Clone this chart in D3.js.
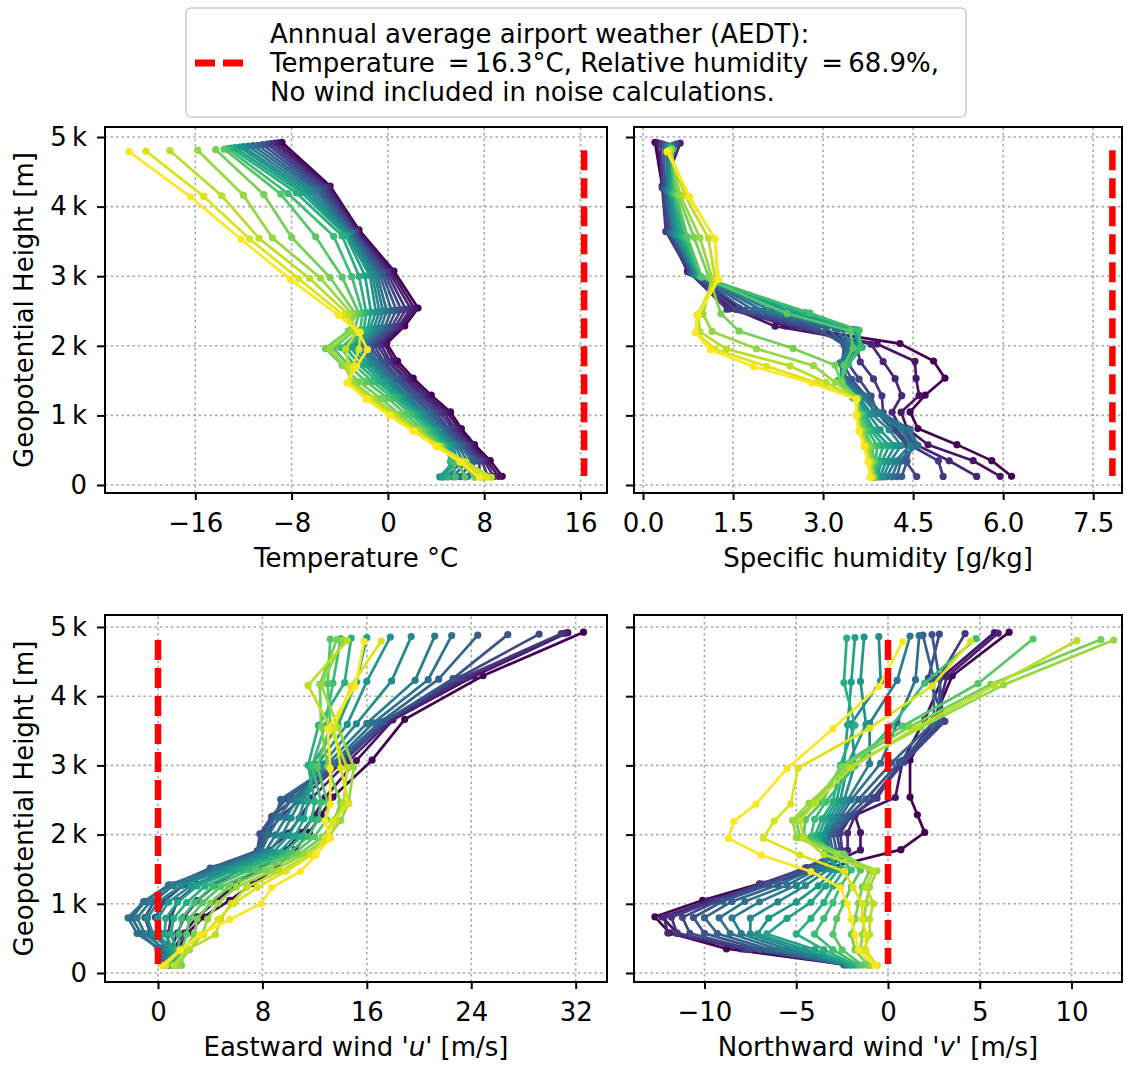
<!DOCTYPE html>
<html>
<head>
<meta charset="utf-8">
<script src="https://cdn.jsdelivr.net/npm/d3@7"></script>
<style>
    body { margin: 0; background: #ffffff; }
    svg text { font-family: "DejaVu Sans", sans-serif; fill: #000000; }
</style>
</head>
<body>
<div class="chart-container"></div>
<script>
const width = 1127;
const height = 1066;
const fontSize = 26;

// 20 profiles (0 = dark purple ... 19 = yellow), 15 levels from the ground up
// geopotential height of every point [m]
const alturas = [
    [125, 350, 580, 812, 1050, 1290, 1535, 1782, 2032, 2286, 2542, 3075, 3665, 4295, 4925],
    [124, 349, 578, 810, 1047, 1287, 1531, 1778, 2027, 2281, 2536, 3069, 3658, 4287, 4918],
    [123, 348, 577, 808, 1045, 1284, 1528, 1774, 2023, 2276, 2531, 3062, 3651, 4279, 4911],
    [123, 347, 575, 806, 1042, 1281, 1524, 1769, 2018, 2271, 2525, 3056, 3644, 4270, 4904],
    [122, 346, 574, 804, 1040, 1278, 1521, 1765, 2014, 2266, 2520, 3050, 3637, 4262, 4897],
    [121, 345, 572, 802, 1037, 1275, 1517, 1761, 2009, 2261, 2514, 3043, 3630, 4254, 4890],
    [120, 344, 571, 800, 1034, 1272, 1513, 1757, 2004, 2256, 2509, 3037, 3622, 4246, 4882],
    [119, 343, 570, 798, 1032, 1269, 1510, 1753, 2000, 2251, 2503, 3031, 3615, 4238, 4875],
    [119, 342, 568, 796, 1029, 1266, 1506, 1748, 1995, 2246, 2498, 3025, 3608, 4229, 4868],
    [118, 341, 567, 794, 1027, 1263, 1503, 1744, 1991, 2241, 2492, 3018, 3601, 4221, 4861],
    [117, 340, 565, 792, 1024, 1260, 1499, 1740, 1986, 2236, 2487, 3012, 3594, 4213, 4854],
    [116, 339, 564, 790, 1021, 1257, 1495, 1736, 1981, 2231, 2481, 3006, 3587, 4205, 4847],
    [115, 338, 562, 788, 1019, 1254, 1492, 1732, 1977, 2226, 2476, 2999, 3580, 4197, 4840],
    [115, 337, 561, 786, 1016, 1251, 1488, 1727, 1972, 2221, 2470, 2993, 3573, 4188, 4833],
    [114, 336, 559, 784, 1014, 1248, 1485, 1723, 1968, 2216, 2465, 2987, 3566, 4180, 4826],
    [113, 335, 558, 782, 1011, 1245, 1481, 1719, 1963, 2211, 2459, 2981, 3559, 4172, 4818],
    [112, 334, 556, 780, 1008, 1242, 1477, 1715, 1958, 2206, 2454, 2974, 3551, 4164, 4811],
    [111, 333, 555, 778, 1006, 1239, 1474, 1711, 1954, 2201, 2448, 2968, 3544, 4156, 4804],
    [111, 332, 553, 776, 1003, 1236, 1470, 1706, 1949, 2196, 2443, 2962, 3537, 4147, 4797],
    [110, 331, 552, 774, 1001, 1233, 1467, 1702, 1945, 2191, 2437, 2955, 3530, 4139, 4790]
];

// temperature [°C]
const temperatura = [
    [9.5, 8.5, 7.2, 6.1, 5.2, 3.6, 2.1, 0.8, -0.1, 1.4, 2.5, 0.5, -2.4, -4.8, -8.8],
    [9.2, 8.2, 7.0, 5.9, 4.9, 3.3, 1.8, 0.5, -0.3, 1.1, 2.2, 0.3, -2.5, -4.9, -9.1],
    [8.8, 8.0, 6.8, 5.6, 4.6, 3.0, 1.5, 0.2, -0.6, 0.9, 1.9, 0.1, -2.6, -5.0, -9.4],
    [8.3, 7.8, 6.6, 5.4, 4.3, 2.8, 1.3, 0.0, -0.9, 0.6, 1.5, -0.1, -2.7, -5.2, -9.7],
    [7.6, 7.6, 6.4, 5.1, 4.0, 2.5, 1.0, -0.3, -1.2, 0.3, 1.1, -0.3, -2.8, -5.4, -10.0],
    [6.6, 7.3, 6.2, 4.9, 3.7, 2.2, 0.8, -0.5, -1.5, 0.0, 0.7, -0.5, -2.9, -5.6, -10.4],
    [6.0, 7.0, 6.0, 4.7, 3.5, 2.0, 0.6, -0.8, -1.7, -0.3, 0.3, -0.7, -3.0, -5.8, -10.8],
    [5.4, 6.6, 5.8, 4.5, 3.2, 1.7, 0.3, -1.0, -2.0, -0.6, -0.1, -0.9, -3.1, -6.0, -11.2],
    [4.9, 6.2, 5.6, 4.3, 3.0, 1.5, 0.1, -1.2, -2.2, -0.9, -0.4, -1.1, -3.2, -6.3, -11.6],
    [4.5, 5.8, 5.4, 4.2, 2.8, 1.3, -0.1, -1.4, -2.5, -1.2, -0.7, -1.3, -3.3, -6.6, -12.0],
    [4.3, 5.5, 5.2, 4.0, 2.6, 1.1, -0.3, -1.7, -2.8, -1.5, -1.0, -1.5, -3.4, -6.9, -12.3],
    [4.6, 5.3, 5.0, 3.8, 2.4, 0.9, -0.6, -2.0, -3.1, -1.7, -1.4, -1.9, -3.5, -7.2, -12.7],
    [5.0, 5.2, 4.8, 3.6, 2.2, 0.7, -0.9, -2.4, -3.5, -2.0, -1.8, -2.4, -3.8, -7.6, -13.0],
    [5.6, 5.4, 4.6, 3.3, 1.9, 0.4, -1.3, -2.8, -3.9, -2.3, -2.1, -3.0, -4.5, -8.3, -13.3],
    [6.4, 5.8, 4.5, 3.0, 1.5, 0.0, -1.8, -3.3, -4.5, -2.8, -2.4, -3.8, -6.0, -8.9, -13.6],
    [7.2, 6.0, 4.4, 2.8, 1.0, -0.6, -2.4, -3.8, -5.2, -3.3, -2.7, -4.8, -8.0, -10.3, -14.3],
    [7.8, 6.2, 4.3, 2.6, 0.7, -1.1, -2.9, -3.6, -4.8, -3.0, -3.0, -5.6, -9.6, -12.0, -15.8],
    [8.6, 6.5, 4.3, 2.4, 0.5, -1.4, -3.2, -3.3, -3.5, -2.6, -3.3, -6.5, -10.7, -13.8, -18.1],
    [8.2, 6.3, 4.2, 2.2, 0.3, -1.6, -3.3, -2.9, -2.4, -2.3, -3.7, -7.4, -11.5, -15.3, -20.1],
    [7.6, 6.0, 4.0, 2.1, 0.1, -1.8, -3.4, -2.6, -1.7, -2.4, -4.1, -8.1, -12.2, -16.4, -21.5]
];

// specific humidity [g/kg]
const humedad = [
    [6.14, 5.81, 5.23, 4.58, 4.45, 4.70, 5.03, 4.84, 4.28, 2.37, 1.60, 0.75, 0.45, 0.32, 0.20],
    [5.95, 5.50, 4.75, 4.40, 4.30, 4.60, 4.55, 4.53, 3.90, 2.20, 1.50, 0.74, 0.42, 0.33, 0.24],
    [5.56, 5.10, 4.55, 4.30, 4.15, 4.31, 4.20, 4.00, 3.80, 2.50, 1.45, 0.78, 0.40, 0.34, 0.62],
    [5.00, 4.92, 4.45, 4.20, 4.00, 3.98, 3.84, 3.62, 3.55, 2.62, 1.40, 0.77, 0.38, 0.32, 0.30],
    [4.56, 4.37, 4.40, 4.15, 3.90, 3.80, 3.60, 3.40, 3.45, 2.75, 1.55, 0.80, 0.42, 0.34, 0.55],
    [4.31, 4.40, 4.48, 4.35, 3.85, 3.72, 3.48, 3.32, 3.35, 2.90, 1.70, 0.82, 0.45, 0.36, 0.35],
    [4.23, 4.30, 4.53, 4.40, 3.95, 3.75, 3.40, 3.30, 3.40, 3.05, 1.85, 0.84, 0.48, 0.38, 0.50],
    [4.15, 4.25, 4.58, 4.45, 3.98, 3.70, 3.35, 3.28, 3.45, 3.20, 2.00, 0.86, 0.50, 0.40, 0.40],
    [4.06, 4.20, 4.45, 4.30, 3.90, 3.65, 3.30, 3.30, 3.50, 3.30, 2.15, 0.88, 0.52, 0.42, 0.42],
    [4.00, 4.12, 4.30, 4.10, 3.80, 3.60, 3.28, 3.35, 3.55, 3.40, 2.30, 0.90, 0.55, 0.44, 0.44],
    [3.95, 4.05, 4.20, 3.95, 3.75, 3.55, 3.25, 3.38, 3.60, 3.50, 2.45, 0.92, 0.58, 0.46, 0.45],
    [3.90, 3.98, 4.10, 3.85, 3.70, 3.50, 3.25, 3.40, 3.63, 3.55, 2.60, 0.93, 0.62, 0.48, 0.46],
    [3.88, 3.92, 4.00, 3.80, 3.68, 3.50, 3.28, 3.42, 3.65, 3.58, 2.70, 0.95, 0.66, 0.50, 0.47],
    [3.86, 3.88, 3.90, 3.75, 3.65, 3.52, 3.30, 3.40, 3.62, 3.60, 2.78, 0.96, 0.70, 0.52, 0.48],
    [3.85, 3.85, 3.82, 3.70, 3.62, 3.55, 3.32, 3.35, 3.50, 3.45, 2.40, 0.98, 0.74, 0.55, 0.48],
    [3.84, 3.82, 3.78, 3.66, 3.60, 3.58, 3.30, 3.20, 2.50, 1.60, 1.30, 1.10, 0.85, 0.58, 0.47],
    [3.83, 3.80, 3.75, 3.64, 3.58, 3.56, 3.20, 2.84, 1.89, 1.15, 1.00, 1.15, 0.95, 0.62, 0.46],
    [3.82, 3.78, 3.72, 3.62, 3.56, 3.55, 3.05, 2.45, 1.39, 0.95, 0.92, 1.20, 1.09, 0.70, 0.44],
    [3.80, 3.76, 3.70, 3.60, 3.55, 3.55, 2.90, 2.06, 1.20, 0.88, 0.90, 1.24, 1.20, 0.76, 0.42],
    [3.78, 3.75, 3.68, 3.60, 3.55, 3.56, 2.81, 1.84, 1.12, 0.87, 0.92, 1.26, 1.20, 0.78, 0.40]
];

// eastward wind u [m/s]
const vientoU = [
    [0.8, 1.5, 2.3, 3.5, 5.5, 7.3, 9.1, 10.5, 11.6, 12.5, 13.4, 16.4, 18.9, 24.9, 32.6],
    [0.6, 1.2, 2.0, 3.0, 4.5, 6.0, 8.0, 9.8, 11.0, 12.0, 12.8, 15.2, 18.0, 24.2, 31.4],
    [0.5, 1.0, 1.5, 2.0, 3.0, 4.5, 6.5, 8.5, 10.0, 11.0, 11.8, 14.6, 17.8, 23.8, 31.2],
    [0.4, 0.7, 0.8, 1.0, 1.5, 3.0, 5.5, 7.8, 8.3, 9.5, 11.0, 14.2, 17.5, 23.4, 30.9],
    [0.3, 0.4, 0.2, -0.2, 0.5, 2.0, 4.5, 7.6, 8.0, 8.8, 10.4, 14.0, 17.3, 23.0, 29.2],
    [0.4, 0.2, -0.6, -1.0, -0.3, 1.2, 4.0, 7.6, 7.8, 8.7, 9.8, 13.8, 17.3, 22.6, 26.8],
    [0.5, 0.0, -1.3, -2.0, -1.0, 0.9, 4.2, 7.7, 8.2, 9.0, 9.4, 13.6, 17.0, 21.5, 24.5],
    [0.6, 0.2, -1.6, -2.3, -1.1, 0.8, 4.4, 7.9, 8.5, 9.3, 10.2, 13.4, 16.5, 20.7, 22.5],
    [0.7, 0.5, -1.0, -1.6, -0.6, 1.2, 4.8, 8.2, 9.0, 9.8, 10.6, 13.0, 16.0, 19.7, 21.2],
    [0.8, 0.8, -0.4, -0.8, 0.0, 1.8, 5.2, 8.5, 9.5, 10.2, 10.9, 12.6, 15.2, 17.9, 19.4],
    [0.9, 1.0, 0.0, 0.0, 0.8, 2.5, 5.6, 8.8, 10.0, 10.8, 11.2, 12.2, 14.5, 16.0, 17.8],
    [1.0, 1.2, 0.5, 0.6, 1.5, 3.0, 6.0, 9.2, 10.5, 11.2, 11.5, 11.8, 13.8, 15.2, 16.0],
    [1.2, 1.4, 1.0, 1.2, 2.2, 3.6, 6.5, 9.6, 11.0, 11.8, 12.0, 11.5, 12.3, 14.3, 14.8],
    [1.4, 1.6, 1.6, 1.8, 2.8, 4.2, 7.0, 10.0, 11.5, 12.3, 12.5, 11.8, 12.8, 13.4, 14.0],
    [1.6, 1.8, 2.2, 2.4, 3.4, 4.8, 7.6, 10.4, 12.0, 12.9, 13.0, 12.2, 13.2, 13.0, 13.2],
    [1.8, 2.0, 2.8, 3.0, 4.0, 5.4, 8.2, 10.8, 12.6, 13.5, 14.0, 13.0, 12.5, 12.4, 13.7],
    [1.5, 2.4, 3.4, 3.8, 4.6, 6.0, 8.8, 11.2, 13.0, 14.0, 14.6, 15.0, 13.8, 12.5, 14.2],
    [1.2, 2.2, 4.4, 4.8, 5.6, 6.8, 9.4, 11.6, 13.2, 13.6, 14.2, 14.5, 13.2, 11.5, 14.5],
    [0.6, 1.7, 3.5, 4.6, 5.8, 7.6, 9.8, 11.8, 12.8, 13.4, 14.6, 14.0, 13.5, 14.8, 17.1],
    [0.3, 1.7, 3.2, 5.5, 7.9, 8.7, 10.9, 12.1, 13.2, 12.8, 13.2, 13.2, 13.0, 15.1, 15.8]
];

// northward wind v [m/s]
const vientoV = [
    [-2.4, -8.8, -11.9, -12.7, -10.1, -7.0, -3.0, 0.7, 2.0, 1.6, 1.2, 1.2, 2.5, 3.5, 6.6],
    [-2.2, -8.0, -11.5, -12.3, -9.5, -6.5, -3.5, -1.5, -1.5, -1.8, 0.4, 0.8, 2.0, 3.0, 5.8],
    [-2.3, -7.8, -12.0, -12.2, -9.8, -6.8, -4.0, -2.2, -2.2, -1.8, -0.8, 0.8, 2.6, 3.2, 6.0],
    [-2.3, -7.8, -11.5, -11.8, -9.5, -7.0, -4.4, -2.5, -2.6, -2.0, -0.6, 0.7, 3.0, 2.8, 4.2],
    [-2.4, -7.5, -10.8, -11.2, -9.3, -6.8, -4.5, -2.6, -2.8, -2.0, -0.8, 0.9, 3.1, 2.2, 2.8],
    [-2.4, -7.0, -10.0, -10.6, -9.0, -6.5, -4.3, -2.8, -3.0, -2.2, -1.2, 0.6, 2.8, 2.8, 2.4],
    [-2.4, -6.5, -9.3, -10.0, -8.5, -6.0, -4.0, -3.0, -3.2, -2.4, -1.6, 0.2, 2.5, 2.5, 1.9],
    [-2.3, -6.0, -8.6, -9.2, -7.8, -5.5, -3.8, -3.2, -3.3, -2.6, -2.0, -0.4, 0.5, 1.5, 1.7],
    [-2.3, -5.5, -8.0, -8.5, -7.0, -5.0, -3.5, -3.3, -3.4, -2.8, -2.2, -1.0, -1.0, 0.5, 1.2],
    [-2.2, -5.0, -7.5, -7.5, -6.0, -4.5, -3.2, -3.4, -3.5, -3.0, -2.4, -1.8, -2.0, -0.4, -0.5],
    [-2.1, -4.5, -7.1, -6.5, -5.0, -3.8, -2.9, -3.3, -3.6, -3.2, -2.6, -2.2, -1.2, -1.5, -1.3],
    [-2.0, -4.0, -6.6, -5.5, -4.2, -3.4, -2.7, -3.2, -3.8, -3.4, -2.8, -2.4, -2.2, -2.0, -1.8],
    [-1.8, -3.5, -5.0, -4.2, -3.5, -3.0, -2.4, -3.0, -4.0, -3.6, -3.0, -2.6, -1.8, -2.4, -2.25],
    [-1.6, -3.0, -4.0, -3.5, -3.0, -2.6, -2.0, -2.8, -4.2, -4.0, -3.4, -1.8, 0.2, 2.0, 4.8],
    [-1.4, -2.5, -3.0, -2.8, -2.4, -2.0, -1.5, -2.6, -4.6, -4.5, -3.6, -2.6, 0.8, 4.9, 7.9],
    [-1.1, -1.8, -2.0, -1.8, -1.6, -1.4, -1.0, -2.4, -4.8, -5.0, -4.0, -2.5, 1.2, 5.6, 11.6],
    [-0.9, -1.5, -1.4, -1.3, -1.2, -1.0, -0.6, -2.8, -5.0, -5.2, -4.3, -2.2, 1.8, 6.3, 12.3],
    [-0.6, -1.3, -1.0, -1.0, -0.8, -1.2, -0.8, -3.5, -4.6, -4.8, -4.0, -2.0, 1.5, 5.8, 10.3],
    [-0.6, -1.2, -1.2, -1.4, -1.4, -1.9, -2.4, -4.8, -6.8, -6.2, -5.3, -4.9, -1.0, 2.4, 4.5],
    [-0.7, -1.6, -1.8, -2.0, -2.2, -2.6, -4.2, -6.9, -8.7, -8.4, -7.2, -5.5, -3.0, -0.5, 0.8]
];

// annual average airport weather (AEDT) reference, one value per panel
const aedtValores = [16.3, 7.82, 0, 0];
const aedtAlturas = [4810, 130];

const yTicks = [0, 1000, 2000, 3000, 4000, 5000];
const yTickLabels = ["0", "1\u2009k", "2\u2009k", "3\u2009k", "4\u2009k", "5\u2009k"];

const tempTicks = [-16, -8, 0, 8, 16];
const tempTickLabels = ["\u221216", "\u22128", "0", "8", "16"];
const humTicks = [0, 1.5, 3, 4.5, 6, 7.5];
const humTickLabels = ["0.0", "1.5", "3.0", "4.5", "6.0", "7.5"];
const uTicks = [0, 8, 16, 24, 32];
const uTickLabels = ["0", "8", "16", "24", "32"];
const vTicks = [-10, -5, 0, 5, 10];
const vTickLabels = ["\u221210", "\u22125", "0", "5", "10"];

const textoLeyenda = [
    "Annnual average airport weather (AEDT):",
    "Temperature\u2002=\u200916.3°C, Relative humidity\u2002=\u200968.9%,",
    "No wind included in noise calculations."
];

const paneles = [
    { datos: temperatura, ref: aedtValores[0], dominioX: [-23.5, 18.2], rangoX: [105, 607],
      dominioY: [-115, 5144], rangoY: [493, 127], ticks: tempTicks, etiquetas: tempTickLabels,
      titulo: [["Temperature °C", false]], conEtiquetasY: true },
    { datos: humedad, ref: aedtValores[1], dominioX: [-0.15, 7.98], rangoX: [634, 1122],
      dominioY: [-115, 5144], rangoY: [493, 127], ticks: humTicks, etiquetas: humTickLabels,
      titulo: [["Specific humidity [g/kg]", false]], conEtiquetasY: false },
    { datos: vientoU, ref: aedtValores[2], dominioX: [-4.06, 34.4], rangoX: [105, 607],
      dominioY: [-130, 5173], rangoY: [982, 615], ticks: uTicks, etiquetas: uTickLabels,
      titulo: [["Eastward wind '", false], ["u", true], ["' [m/s]", false]], conEtiquetasY: true },
    { datos: vientoV, ref: aedtValores[3], dominioX: [-13.84, 12.75], rangoX: [634, 1122],
      dominioY: [-130, 5173], rangoY: [982, 615], ticks: vTicks, etiquetas: vTickLabels,
      titulo: [["Northward wind '", false], ["v", true], ["' [m/s]", false]], conEtiquetasY: false }
];

const colorPerfil = (i) => d3.interpolateViridis(i / (alturas.length - 1));

const svg = d3.select('.chart-container')
              .append('svg')
              .attr('width', width)
              .attr('height', height)
              .style('font-size', fontSize + 'px');

paneles.forEach(p => drawPanel(p));
drawLegend();

function drawPanel(p) {
    const escalaX = d3.scaleLinear().domain(p.dominioX).range(p.rangoX);
    const escalaY = d3.scaleLinear().domain(p.dominioY).range(p.rangoY);
    const g = svg.append('g');

    // grid
    const grid = g.append('g')
                  .attr('stroke', '#aaaaaa')
                  .attr('stroke-width', 1.6)
                  .attr('stroke-dasharray', '2.5,3');
    grid.selectAll('.gx')
        .data(p.ticks)
        .join('line')
        .attr('x1', d => escalaX(d))
        .attr('x2', d => escalaX(d))
        .attr('y1', p.rangoY[0])
        .attr('y2', p.rangoY[1]);
    grid.selectAll('.gy')
        .data(yTicks)
        .join('line')
        .attr('class', 'gy')
        .attr('x1', p.rangoX[0])
        .attr('x2', p.rangoX[1])
        .attr('y1', d => escalaY(d))
        .attr('y2', d => escalaY(d));

    // profiles
    const perfiles = p.datos.map((fila, i) => ({
        i: i,
        puntos: fila.map((valor, k) => ({ x: valor, h: alturas[i][k] }))
    }));

    const linea = d3.line()
        .x(d => escalaX(d.x))
        .y(d => escalaY(d.h));

    const grupos = g.append('g')
                    .selectAll('g')
                    .data(perfiles)
                    .join('g');

    grupos.append('path')
          .attr('d', d => linea(d.puntos))
          .attr('fill', 'none')
          .attr('stroke', d => colorPerfil(d.i))
          .attr('stroke-width', 2.7)
          .attr('stroke-linejoin', 'round');

    grupos.each(function (d) {
        d3.select(this)
          .selectAll('circle')
          .data(d.puntos)
          .join('circle')
          .attr('cx', q => escalaX(q.x))
          .attr('cy', q => escalaY(q.h))
          .attr('r', 3.6)
          .attr('fill', colorPerfil(d.i));
    });

    // AEDT reference line
    g.append('path')
     .attr('d', linea(aedtAlturas.map(h => ({ x: p.ref, h: h }))))
     .attr('fill', 'none')
     .attr('stroke', '#ff0000')
     .attr('stroke-width', 6.5)
     .attr('stroke-dasharray', '20,8');

    // axes
    const ejeX = d3.axisBottom(escalaX)
                   .tickValues(p.ticks)
                   .tickFormat((d, i) => p.etiquetas[i])
                   .tickSize(7)
                   .tickPadding(14);
    const ejeY = d3.axisLeft(escalaY)
                   .tickValues(yTicks)
                   .tickFormat((d, i) => p.conEtiquetasY ? yTickLabels[i] : "")
                   .tickSize(8)
                   .tickPadding(10);

    const contenedorEjeX = g.append('g')
                            .attr('transform', `translate(0, ${p.rangoY[0]})`)
                            .call(ejeX);
    const contenedorEjeY = g.append('g')
                            .attr('transform', `translate(${p.rangoX[0]}, 0)`)
                            .call(ejeY);

    [contenedorEjeX, contenedorEjeY].forEach(eje => {
        eje.select('.domain').remove();
        eje.attr('font-size', null).attr('font-family', null);
        eje.selectAll('line').attr('stroke', '#000').attr('stroke-width', 2);
        eje.selectAll('text').style('font-size', fontSize + 'px').attr('fill', '#000');
    });

    // spines
    g.append('rect')
     .attr('x', p.rangoX[0])
     .attr('y', p.rangoY[1])
     .attr('width', p.rangoX[1] - p.rangoX[0])
     .attr('height', p.rangoY[0] - p.rangoY[1])
     .attr('fill', 'none')
     .attr('stroke', '#000')
     .attr('stroke-width', 2);

    // x label
    const titulo = g.append('text')
                    .attr('x', (p.rangoX[0] + p.rangoX[1]) / 2)
                    .attr('y', p.rangoY[0] + 74)
                    .attr('text-anchor', 'middle');
    p.titulo.forEach(([texto, cursiva]) => {
        titulo.append('tspan')
              .style('font-style', cursiva ? 'italic' : 'normal')
              .text(texto);
    });

    // y label
    if (p.conEtiquetasY) {
        g.append('text')
         .attr('transform', `translate(33, ${(p.rangoY[0] + p.rangoY[1]) / 2}) rotate(-90)`)
         .attr('text-anchor', 'middle')
         .text('Geopotential Height [m]');
    }
}

function drawLegend() {
    const leyenda = svg.append('g');

    leyenda.append('rect')
           .attr('x', 186)
           .attr('y', 8)
           .attr('width', 780)
           .attr('height', 109)
           .attr('rx', 5)
           .attr('fill', '#fff')
           .attr('stroke', '#cccccc')
           .attr('stroke-width', 1.5);

    leyenda.append('line')
           .attr('x1', 195)
           .attr('x2', 245)
           .attr('y1', 63)
           .attr('y2', 63)
           .attr('stroke', '#ff0000')
           .attr('stroke-width', 7)
           .attr('stroke-dasharray', '20,8');

    leyenda.selectAll('.linea-leyenda')
           .data(textoLeyenda)
           .join('text')
           .attr('class', 'linea-leyenda')
           .attr('x', 270)
           .attr('y', (d, i) => 43 + i * 29)
           .text(d => d);
}
</script>
</body>
</html>
